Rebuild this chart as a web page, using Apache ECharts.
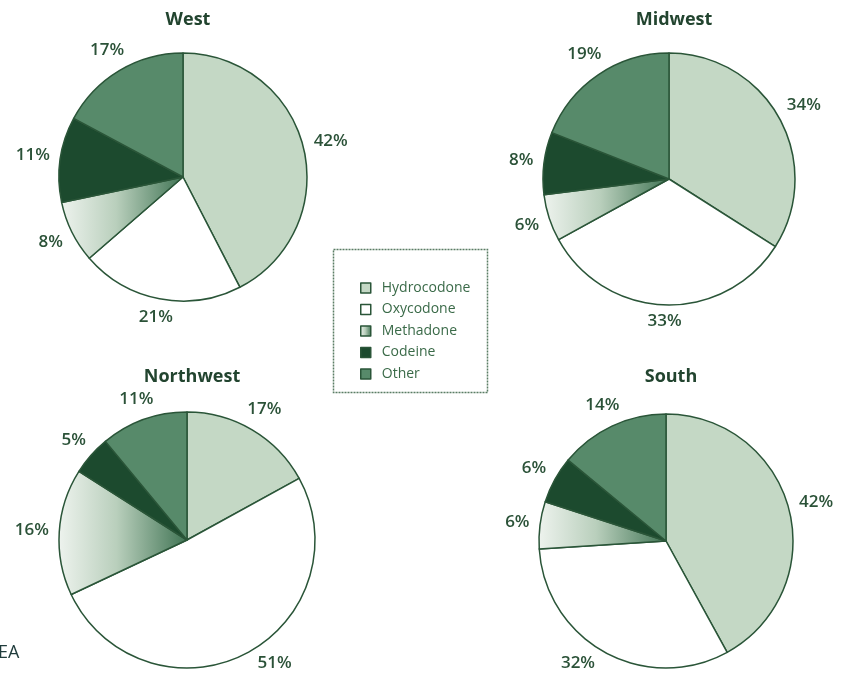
<!DOCTYPE html>
<html>
<head>
<meta charset="utf-8">
<script src="https://cdn.jsdelivr.net/npm/echarts@6/dist/echarts.min.js"></script>
<style>
  html, body { margin: 0; padding: 0; background: #ffffff; }
  #chart { width: 843px; height: 677px; }
</style>
</head>
<body>
<div id="chart"></div>
<script>
// Share of prescription opioids by region (percent)
const drugs = ['Hydrocodone', 'Oxycodone', 'Methadone', 'Codeine', 'Other'];
const regions = ['West', 'Midwest', 'Northwest', 'South'];
const westValues = [42, 21, 8, 11, 17];
const midwestValues = [34, 33, 6, 8, 19];
const northwestValues = [17, 51, 16, 5, 11];
const southValues = [42, 32, 6, 6, 14];

const regionValues = [westValues, midwestValues, northwestValues, southValues];

// Layout of the four pies: centre and radius in pixels
const pieLayout = [
  { center: [183, 177], radius: 124, titleTop: 6 },
  { center: [669, 179], radius: 126, titleTop: 6 },
  { center: [187, 540], radius: 128, titleTop: 363 },
  { center: [666, 541], radius: 127, titleTop: 363 }
];

const chartHeight = 677;
const labelFontSize = 17;
const labelGap = 10;
const textGreen = '#2b5238';
const edgeGreen = '#2a5538';

const fills = {
  Hydrocodone: '#c4d8c5',
  Oxycodone: '#ffffff',
  Methadone: new echarts.graphic.LinearGradient(0, 0, 1, 0, [
    { offset: 0, color: '#eef3ee' },
    { offset: 0.45, color: '#b9cfbc' },
    { offset: 1, color: '#3f7353' }
  ]),
  Codeine: '#1c4a2e',
  Other: '#578a6a'
};

// Centre each percentage label just outside its slice, along the slice's mid angle;
// a label that would leave the bottom of the canvas slides round the pie instead.
function placeLabel(params) {
  const values = regionValues[params.seriesIndex];
  const layout = pieLayout[params.seriesIndex];
  const total = values.reduce((a, b) => a + b, 0);
  let before = 0;
  for (let k = 0; k < params.dataIndex; k++) before += values[k];
  const mid = (before + values[params.dataIndex] / 2) / total * Math.PI * 2;
  const dx = Math.sin(mid);
  const dy = -Math.cos(mid);
  const hw = params.labelRect.width / 2;
  const hh = labelFontSize * 0.35;
  const dist = layout.radius + labelGap + hw * Math.abs(dx) + hh * Math.abs(dy);
  let x = layout.center[0] + dist * dx;
  let y = layout.center[1] + dist * dy;
  const maxY = chartHeight - 14;
  if (y > maxY) {
    const oy = maxY - layout.center[1];
    const ox = Math.sqrt(Math.max(dist * dist - oy * oy, 0));
    x = layout.center[0] + (dx < 0 ? -ox : ox);
    y = maxY;
  }
  return { x: x, y: y, align: 'center', verticalAlign: 'middle' };
}

const series = regions.map((region, i) => ({
  name: region,
  type: 'pie',
  center: pieLayout[i].center,
  radius: pieLayout[i].radius,
  startAngle: 90,
  clockwise: true,
  avoidLabelOverlap: false,
  animation: false,
  emphasis: { disabled: true },
  itemStyle: { borderColor: edgeGreen, borderWidth: 1.5 },
  label: {
    show: true,
    position: 'outside',
    formatter: '{c}%',
    color: textGreen,
    fontFamily: 'Open Sans',
    fontWeight: 600,
    fontSize: labelFontSize
  },
  labelLine: { show: false, length: 10, length2: 0 },
  labelLayout: placeLabel,
  data: drugs.map((d, k) => ({
    name: d,
    value: regionValues[i][k],
    itemStyle: { color: fills[d] }
  }))
}));

const titles = regions.map((region, i) => ({
  text: region,
  left: pieLayout[i].center[0],
  top: pieLayout[i].titleTop,
  textAlign: 'center',
  textStyle: {
    color: '#22442f',
    fontFamily: 'Open Sans',
    fontWeight: 'bold',
    fontSize: 18
  }
}));

const chart = echarts.init(document.getElementById('chart'), null, { renderer: 'canvas' });
chart.setOption({
  backgroundColor: '#ffffff',
  animation: false,
  title: titles,
  legend: {
    orient: 'vertical',
    left: 355,
    top: 276,
    itemWidth: 10,
    itemHeight: 10,
    itemGap: 7.5,
    icon: 'rect',
    selectedMode: false,
    data: drugs,
    itemStyle: { borderColor: edgeGreen, borderWidth: 1.5 },
    textStyle: {
      color: '#3a6a48',
      fontFamily: 'Open Sans',
      fontSize: 14,
      padding: [0, 0, 0, 6]
    }
  },
  graphic: [
    {
      type: 'rect',
      shape: { x: 333.5, y: 249.5, width: 154, height: 143 },
      style: { fill: 'none', stroke: '#5a7d64', lineWidth: 1.5, lineDash: [2, 1] },
      silent: true
    },
    {
      type: 'text',
      left: -2,
      top: 644,
      style: {
        text: 'EA',
        fill: '#1f3b3b',
        font: '18px "Open Sans"'
      },
      silent: true
    }
  ],
  series: series
});
</script>
</body>
</html>
